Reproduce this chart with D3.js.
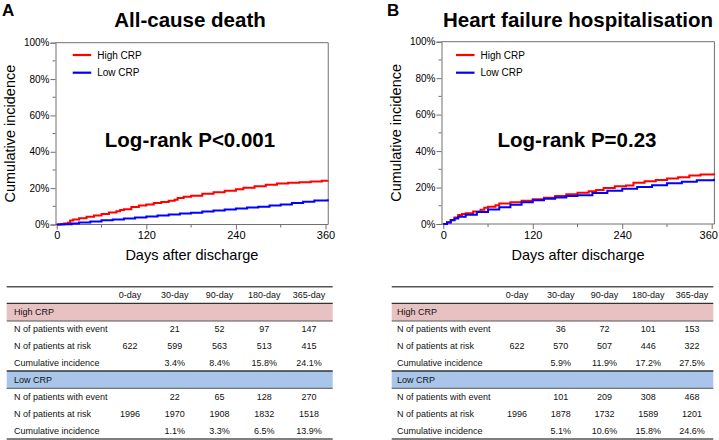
<!DOCTYPE html>
<html><head><meta charset="utf-8">
<script src="https://cdn.jsdelivr.net/npm/d3@7/dist/d3.min.js"></script>
<style>
body{margin:0;background:#fff;}
svg{display:block;font-family:"Liberation Sans",Arial,sans-serif;}
</style></head>
<body><svg id="c" width="719" height="440"></svg>
<script>
// ---------- DATA ----------
const panelLetters = ["A", "B"];
const panelTitles = ["All-cause death", "Heart failure hospitalisation"];
const pValues = ["Log-rank P<0.001", "Log-rank P=0.23"];
const seriesNames = ["High CRP", "Low CRP"];
const yTicks = [0, 20, 40, 60, 80, 100];
const yMinorTicks = [10, 30, 50, 70, 90];
const xTicks = [0, 120, 240, 360];
const xMinorTicks = [60, 180, 300];

// [day, cumulative %]
const deathHigh = [[0,0],[5,0.3],[10,0.6],[15,1.0],[18,2.2],[22,2.8],[30,3.4],[40,4.2],[50,5.0],[60,5.8],[70,6.6],[80,7.3],[85,8.0],[90,8.4],[100,9.6],[110,10.5],[120,11.0],[130,11.8],[140,12.4],[150,13.0],[158,13.6],[162,14.6],[170,15.3],[180,15.8],[195,16.9],[210,17.8],[225,18.6],[240,19.4],[250,20.2],[265,21.0],[280,21.8],[295,22.6],[310,22.9],[325,23.3],[340,23.6],[355,24.0],[363,24.2]];
const deathLow = [[0,0],[10,0.2],[20,0.6],[30,1.1],[45,1.7],[60,2.3],[75,2.8],[90,3.3],[105,3.8],[120,4.4],[135,5.0],[150,5.5],[165,6.0],[180,6.5],[195,7.1],[210,7.7],[225,8.2],[240,8.8],[255,9.3],[270,9.8],[285,10.4],[300,11.0],[315,11.8],[330,12.5],[345,13.2],[363,13.9]];
const hfHigh = [[0,0],[5,1.0],[10,2.2],[15,3.5],[20,5.0],[25,5.5],[30,5.9],[40,6.9],[50,7.8],[55,8.9],[60,9.4],[70,10.3],[75,11.2],[90,11.9],[105,12.8],[120,13.6],[135,14.4],[150,15.4],[165,16.3],[180,17.2],[195,17.9],[205,18.6],[215,19.8],[230,20.7],[245,21.1],[255,22.6],[270,23.4],[285,24.2],[300,25.0],[315,25.6],[330,26.6],[345,27.1],[363,27.8]];
const hfLow = [[0,0],[5,0.8],[10,2.0],[15,3.0],[20,4.0],[30,5.1],[45,6.6],[60,8.0],[75,9.2],[90,10.6],[105,11.9],[120,13.0],[135,13.8],[150,14.6],[165,15.3],[180,15.8],[200,17.0],[220,18.2],[240,19.3],[260,20.3],[280,21.3],[300,22.3],[320,23.2],[340,24.0],[363,24.8]];

// table
const tableCols = ["0-day", "30-day", "90-day", "180-day", "365-day"];
const rowLabels = ["N of patients with event", "N of patients at risk", "Cumulative incidence"];
const deathHighEvent = ["", "21", "52", "97", "147"];
const deathHighRisk = ["622", "599", "563", "513", "415"];
const deathHighCum = ["", "3.4%", "8.4%", "15.8%", "24.1%"];
const deathLowEvent = ["", "22", "65", "128", "270"];
const deathLowRisk = ["1996", "1970", "1908", "1832", "1518"];
const deathLowCum = ["", "1.1%", "3.3%", "6.5%", "13.9%"];
const hfHighEvent = ["", "36", "72", "101", "153"];
const hfHighRisk = ["622", "570", "507", "446", "322"];
const hfHighCum = ["", "5.9%", "11.9%", "17.2%", "27.5%"];
const hfLowEvent = ["", "101", "209", "308", "468"];
const hfLowRisk = ["1996", "1878", "1732", "1589", "1201"];
const hfLowCum = ["", "5.1%", "10.6%", "15.8%", "24.6%"];

// ---------- DRAW ----------
const svg = d3.select("#c");
const colors = ["#ff0000", "#0000ff"];
const axisCol = "#707070";

const panels = [
  {letter:0, axisX:55.5, x0:56.7, x360:325.5, top:42.7, bottom:224.5, cx:190, title:190, ylabX:10, lastDx:0,
   series:[deathHigh, deathLow], legX:72.7,
   table:{left:6.7, right:332.7, labX:14, c0:130, c4:309,
     high:[deathHighEvent, deathHighRisk, deathHighCum], low:[deathLowEvent, deathLowRisk, deathLowCum]}},
  {letter:1, axisX:441.5, x0:443.3, x360:711.7, top:41.7, bottom:224, cx:577, title:578, ylabX:396, lastDx:-3.5,
   series:[hfHigh, hfLow], legX:456,
   table:{left:391.7, right:713.3, labX:397, c0:517, c4:692,
     high:[hfHighEvent, hfHighRisk, hfHighCum], low:[hfLowEvent, hfLowRisk, hfLowCum]}}
];

panels.forEach((p, i) => {
  const g = svg.append("g");
  const x = d3.scaleLinear().domain([0, 360]).range([p.x0, p.x360]);
  const y = d3.scaleLinear().domain([0, 100]).range([p.bottom, p.top]);
  const right = x(363) + 0.5;

  // letter & title
  g.append("text").attr("x", i === 0 ? 2 : 387).attr("y", 15.5)
    .attr("font-size", 17).attr("font-weight", "bold").text(panelLetters[i]);
  g.append("text").attr("x", p.title).attr("y", 27).attr("text-anchor", "middle")
    .attr("font-size", 20.5).attr("font-weight", "bold").text(panelTitles[i]);

  // frame top & right
  g.append("line").attr("x1", p.axisX).attr("x2", right).attr("y1", p.top).attr("y2", p.top)
    .attr("stroke", axisCol).attr("stroke-width", 1);
  g.append("line").attr("x1", right).attr("x2", right).attr("y1", p.top).attr("y2", p.bottom)
    .attr("stroke", axisCol).attr("stroke-width", 1);

  // y axis
  const yAx = d3.axisLeft(y).tickValues(yTicks).tickSize(5).tickFormat(d => d + "%");
  const ya = g.append("g").attr("transform", `translate(${p.axisX},0)`).call(yAx);
  ya.select(".domain").attr("stroke", axisCol);
  ya.selectAll(".tick line").attr("stroke", axisCol);
  ya.selectAll(".tick text").attr("font-size", 10).attr("fill", "#000")
    .attr("font-family", '"Liberation Sans",Arial,sans-serif').attr("x", -6);
  g.selectAll(".ymin").data(yMinorTicks).enter().append("line")
    .attr("x1", p.axisX - 3).attr("x2", p.axisX).attr("y1", d => y(d)).attr("y2", d => y(d))
    .attr("stroke", axisCol);

  // x axis
  const xAx = d3.axisBottom(x).tickValues(xTicks).tickSize(5);
  const xa = g.append("g").attr("transform", `translate(0,${p.bottom})`).call(xAx);
  xa.select(".domain").remove();
  xa.append("line").attr("x1", p.axisX).attr("x2", right).attr("stroke", axisCol);
  xa.selectAll(".tick line").attr("stroke", axisCol);
  xa.selectAll(".tick text").attr("font-size", 11).attr("fill", "#000")
    .attr("font-family", '"Liberation Sans",Arial,sans-serif').attr("y", 7)
    .attr("dx", d => d === 360 ? p.lastDx : 0);
  g.selectAll(".xmin").data(xMinorTicks).enter().append("line")
    .attr("x1", d => x(d)).attr("x2", d => x(d)).attr("y1", p.bottom).attr("y2", p.bottom + 3)
    .attr("stroke", axisCol);

  // axis labels
  g.append("text").attr("transform", `translate(${p.ylabX},${(p.top + p.bottom) / 2}) rotate(-90)`)
    .attr("text-anchor", "middle").attr("dy", "0.35em").attr("font-size", 14.5).text("Cumulative incidence");
  g.append("text").attr("x", (p.axisX + right) / 2).attr("y", 260).attr("text-anchor", "middle")
    .attr("font-size", 14.5).text("Days after discharge");

  // curves
  const line = d3.line().x(d => x(d[0])).y(d => y(d[1])).curve(d3.curveStepAfter);
  p.series.forEach((s, k) => {
    g.append("path").datum(s).attr("d", line).attr("fill", "none")
      .attr("stroke", colors[k]).attr("stroke-width", 2);
  });

  // legend
  seriesNames.forEach((n, k) => {
    const ly = 55 + k * 17.7;
    g.append("line").attr("x1", p.legX).attr("x2", p.legX + 18.5).attr("y1", ly).attr("y2", ly)
      .attr("stroke", colors[k]).attr("stroke-width", 2.2);
    g.append("text").attr("x", p.legX + 24.5).attr("y", ly).attr("dy", "0.35em")
      .attr("font-size", 10).text(n);
  });

  // p-value
  g.append("text").attr("x", p.cx).attr("y", 147).attr("text-anchor", "middle")
    .attr("font-size", 20.5).attr("font-weight", "bold").text(pValues[i]);

  // table
  const t = p.table;
  const col = d3.scalePoint().domain(tableCols).range([t.c0, t.c4]);
  const tg = g.append("g").attr("font-size", 9).attr("fill", "#111");
  tg.append("rect").attr("x", t.left).attr("y", 303.3).attr("width", t.right - t.left).attr("height", 17.7).attr("fill", "#e8c2c3");
  tg.append("rect").attr("x", t.left).attr("y", 371).attr("width", t.right - t.left).attr("height", 17.3).attr("fill", "#a9c6ea");
  const hl = (yy, w, c) => tg.append("line").attr("x1", t.left).attr("x2", t.right).attr("y1", yy).attr("y2", yy)
    .attr("stroke", c).attr("stroke-width", w);
  hl(286.7, 1.6, "#555"); hl(303.3, 1.3, "#333"); hl(321, 1, "#555");
  hl(371, 1.3, "#333"); hl(388.3, 1, "#555"); hl(439, 1.6, "#555");

  tableCols.forEach(c => tg.append("text").attr("x", col(c)).attr("y", 295).attr("dy", "0.35em")
    .attr("text-anchor", "middle").text(c));
  tg.append("text").attr("x", t.labX).attr("y", 312.3).attr("dy", "0.35em").text(seriesNames[0]);
  tg.append("text").attr("x", t.labX).attr("y", 380).attr("dy", "0.35em").text(seriesNames[1]);
  const blocks = [[t.high, [329.3, 346, 362.7]], [t.low, [397.3, 414.3, 431.3]]];
  blocks.forEach(([rows, ys]) => {
    rows.forEach((vals, r) => {
      tg.append("text").attr("x", t.labX).attr("y", ys[r]).attr("dy", "0.35em").text(rowLabels[r]);
      vals.forEach((v, ci) => {
        if (v === "") return;
        tg.append("text").attr("x", col(tableCols[ci])).attr("y", ys[r]).attr("dy", "0.35em")
          .attr("text-anchor", "middle").text(v);
      });
    });
  });
});
</script></body></html>
